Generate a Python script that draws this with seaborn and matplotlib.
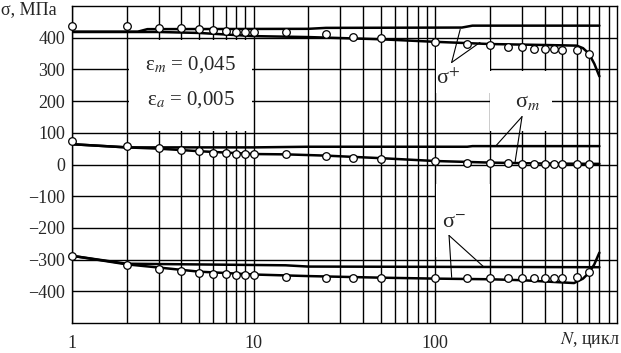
import numpy as np
import pandas as pd
import matplotlib
matplotlib.use("Agg")
import matplotlib.pyplot as plt
import seaborn as sns
from matplotlib.patches import Rectangle


# experimental points (circles)
N_POINTS = [1, 2, 3, 4, 5, 6, 7, 8, 9, 10, 15, 25, 35, 50, 100, 150, 200, 250, 300, 350, 400, 450, 500, 600, 700]
SIG_PLUS_PTS = [438, 436, 432, 430, 427, 423, 422, 419, 419, 419, 418, 413, 402, 399, 386, 381, 378, 372, 370, 365, 365, 364, 362, 362, 349]
SIG_M_PTS = [74, 58, 53, 45, 42, 37, 37, 34, 34, 32, 32, 26, 21, 18, 12, 6, 5, 5, 2, 1, 1, 1, 1, 1, 1]
SIG_MINUS_PTS = [-290, -317, -329, -335, -342, -347, -347, -350, -350, -350, -354, -358, -358, -358, -358, -358, -358, -358, -358, -358, -358, -358, -358, -356, -340]

# calculated curves (two models per stress)
N_PLUS_A = [1, 2.3, 2.6, 20, 25, 140, 160, 800]
SIG_PLUS_A = [419, 419, 427, 428, 431, 432, 438, 438]
N_PLUS_B = [1, 3, 5, 10, 20, 50, 100, 200, 400, 600, 650, 700, 750, 800]
SIG_PLUS_B = [418, 418, 415, 405, 402, 395, 387, 380, 377, 375, 367, 350, 318, 278]

N_M_A = [1, 2, 10, 20, 150, 160, 800]
SIG_M_A = [64, 54, 54, 56, 56, 58, 58]
N_M_B = [1, 2, 3, 5, 10, 15, 25, 50, 100, 200, 400, 800]
SIG_M_B = [64, 54, 50, 42, 33, 32, 28, 20, 11, 6, 3, 2]

N_MINUS_A = [1, 2, 15, 20, 800]
SIG_MINUS_A = [-288, -313, -318, -322, -324]
N_MINUS_B = [1, 2, 3, 5, 10, 20, 50, 100, 200, 300, 500, 580, 650, 700, 750, 800]
SIG_MINUS_B = [-288, -315, -325, -338, -347, -352, -357, -360, -362, -365, -372, -374, -360, -342, -315, -278]

Y_TICKS = [-400, -300, -200, -100, 0, 100, 200, 300, 400]
X_TICKS = [1, 10, 100]


sns.set_style("white")
plt.rcParams['font.family'] = ['Liberation Serif', 'DejaVu Serif']
plt.rcParams['mathtext.fontset'] = 'stix'

fig = plt.figure(figsize=(6.21, 3.53), dpi=100)
ax = fig.add_axes([72 / 621, 30 / 353, 545 / 621, 317 / 353])
ax.set_xscale('log')

# curves
curves = [(N_PLUS_A, SIG_PLUS_A), (N_PLUS_B, SIG_PLUS_B),
          (N_M_A, SIG_M_A), (N_M_B, SIG_M_B),
          (N_MINUS_A, SIG_MINUS_A), (N_MINUS_B, SIG_MINUS_B)]
for xs, ys in curves:
    sns.lineplot(x=xs, y=ys, ax=ax, color='black', lw=1.8, estimator=None, sort=False, zorder=3)

# points
pts = pd.DataFrame({'N': N_POINTS * 3,
                    'sigma': SIG_PLUS_PTS + SIG_M_PTS + SIG_MINUS_PTS})
sns.scatterplot(data=pts, x='N', y='sigma', ax=ax, marker='o', s=30,
                facecolor='white', edgecolor='black', linewidth=0.9, zorder=4, clip_on=False)

ax.set_xlim(1, 1000)
ax.set_ylim(-500, 500)
ax.set_xticks(X_TICKS)
ax.set_xticklabels([str(v) for v in X_TICKS])
ax.xaxis.set_minor_locator(matplotlib.ticker.LogLocator(base=10, subs=np.arange(2, 10)))
ax.xaxis.set_minor_formatter(matplotlib.ticker.NullFormatter())
ax.set_yticks(Y_TICKS)
ax.set_yticklabels([str(v).replace('-', '\u2212') for v in Y_TICKS])
ax.tick_params(axis='both', which='both', length=0, labelsize=13)
ax.tick_params(axis='x', pad=9)
ax.tick_params(axis='y', pad=5)
ax.set_axisbelow(True)
ax.grid(True, which='both', color='black', lw=1.0)
for s in ax.spines.values():
    s.set_color('black')
    s.set_linewidth(1.0)
ax.set_xlabel('')
ax.set_ylabel('')

# white boxes behind labels
for (x0, x1, y0, y1) in [(2.05, 9.85, 105, 392), (101, 199, 225, 392),
                         (201, 440, 105, 295), (101, 199, -292, -60)]:
    ax.add_patch(Rectangle((x0, y0), x1 - x0, y1 - y0, facecolor='white',
                           edgecolor='none', zorder=1.5))

ax.text(4.5, 315, 'ε$_m$ = 0,045', ha='center', va='center', fontsize=15, zorder=5)
ax.text(4.5, 205, 'ε$_a$ = 0,005', ha='center', va='center', fontsize=15, zorder=5)

# stress labels with leader lines
ax.text(118, 270, 'σ$^{+}$', ha='center', va='center', fontsize=16, zorder=5)
ax.plot([123, 137], [322, 426], color='black', lw=0.8, zorder=5)
ax.plot([123, 176], [322, 385], color='black', lw=0.8, zorder=5)

ax.text(321, 196, 'σ$_{m}$', ha='center', va='center', fontsize=16, zorder=5)
ax.plot([300, 214], [151, 57], color='black', lw=0.8, zorder=5)
ax.plot([300, 275], [151, 9], color='black', lw=0.8, zorder=5)

ax.text(126, -185, 'σ$^{-}$', ha='center', va='center', fontsize=16, zorder=5)
ax.plot([119, 123], [-224, -356], color='black', lw=0.8, zorder=5)
ax.plot([119, 184], [-224, -322], color='black', lw=0.8, zorder=5)

fig.text(0.002, 0.972, 'σ, МПа', ha='left', va='center', fontsize=13)
fig.text(0.998, 0.037, r'$N$, цикл', ha='right', va='center', fontsize=13)

fig.savefig('out.png', dpi=100)
